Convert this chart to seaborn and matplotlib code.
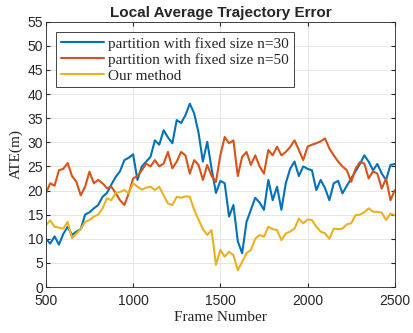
import numpy as np
import pandas as pd
import seaborn as sns
import matplotlib.pyplot as plt

# frame numbers, sampled every 25 frames
frames = list(range(500, 2501, 25))

# partition with fixed size n=30
ate_n30 = [10.0, 9.0, 10.5, 8.8, 11.0, 12.5, 10.8, 11.5, 12.0, 15.0,
           15.5, 16.3, 17.0, 18.7, 19.5, 21.2, 22.8, 24.0, 26.3, 26.8,
           27.5, 22.2, 25.0, 26.0, 27.0, 30.4, 29.5, 32.5, 31.0, 29.8,
           34.6, 34.0, 35.6, 38.0, 36.0, 32.0, 26.0, 30.1, 24.5, 19.5,
           22.0, 21.5, 14.6, 17.0, 9.5, 7.0, 13.5, 16.0, 18.5, 17.5,
           16.0, 22.2, 18.0, 20.8, 16.0, 21.5, 24.5, 26.0, 23.0, 25.0,
           24.5, 24.2, 20.1, 22.2, 20.5, 18.0, 21.5, 22.0, 19.4, 21.0,
           22.5, 24.0, 25.5, 27.3, 26.0, 24.2, 25.5, 23.5, 22.2, 25.3,
           25.5]

# partition with fixed size n=50
ate_n50 = [19.4, 21.5, 21.0, 24.2, 24.5, 25.7, 23.0, 21.8, 19.0, 20.8,
           23.9, 21.5, 22.2, 21.5, 20.5, 20.8, 19.5, 18.0, 17.0, 19.4,
           22.5, 23.0, 24.2, 25.6, 25.0, 26.3, 25.0, 25.6, 28.0, 24.6,
           26.0, 28.0, 27.3, 23.5, 26.3, 25.3, 22.2, 25.3, 23.0, 21.8,
           27.3, 31.1, 29.8, 30.4, 23.0, 27.0, 28.0, 25.3, 27.3, 25.0,
           23.5, 28.4, 27.3, 29.1, 27.3, 28.0, 29.0, 30.4, 28.4, 26.3,
           29.1, 29.5, 29.8, 30.2, 30.8, 28.7, 27.3, 26.0, 25.0, 24.2,
           21.8, 24.5, 25.9, 25.6, 22.5, 24.0, 23.5, 20.4, 22.5, 18.0,
           20.1]

# our method
ate_ours = [12.8, 13.8, 12.5, 12.3, 12.1, 13.5, 10.1, 11.1, 12.0, 13.5,
            13.9, 14.6, 15.0, 16.3, 18.4, 18.0, 19.5, 19.7, 20.1, 19.4,
            21.5, 20.8, 20.2, 20.6, 20.8, 20.1, 20.8, 19.0, 17.3, 17.0,
            18.7, 18.5, 18.8, 18.7, 16.0, 14.0, 12.0, 10.8, 11.8, 4.6,
            7.7, 6.3, 7.3, 6.6, 3.5, 5.2, 7.0, 7.7, 10.0, 10.8,
            10.4, 12.5, 12.0, 11.8, 9.7, 11.1, 11.5, 12.1, 14.2, 13.2,
            14.0, 13.9, 12.5, 11.5, 11.1, 10.0, 12.1, 12.0, 12.1, 13.0,
            13.2, 14.9, 15.0, 15.5, 16.3, 15.6, 15.6, 15.4, 13.9, 15.2,
            14.9]

labels = ['partition with fixed size n=30', 'partition with fixed size n=50', 'Our method']
colors = ['#0072BD', '#D95319', '#EDB120']

df = pd.DataFrame({'frame': frames, labels[0]: ate_n30, labels[1]: ate_n50, labels[2]: ate_ours})
df_long = df.melt(id_vars='frame', var_name='method', value_name='ate')

sns.set_style('whitegrid')
plt.rcParams['font.family'] = ['Liberation Sans', 'DejaVu Sans']

fig = plt.figure(figsize=(4.13, 3.33), dpi=100)
ax = fig.add_axes([0.111, 0.138, 0.845, 0.797])

sns.lineplot(data=df_long, x='frame', y='ate', hue='method', palette=colors,
             linewidth=1.5, ax=ax)

ax.set_xlim(500, 2500)
ax.set_ylim(0, 55)
ax.set_xticks([500, 1000, 1500, 2000, 2500])
ax.set_yticks(np.arange(0, 56, 5))
ax.tick_params(labelsize=10, direction='in', length=3, top=True, right=True,
               bottom=True, left=True, colors='#262626')
ax.tick_params(axis='x', pad=5)
ax.tick_params(axis='y', pad=2)
ax.grid(color='#e6e6e6', linewidth=0.7)
for s in ax.spines.values():
    s.set_color('#262626')
    s.set_linewidth(0.6)

ax.set_xlabel('Frame Number', family='Liberation Serif', fontsize=11, labelpad=2)
ax.set_ylabel('ATE(m)', family='Liberation Serif', fontsize=11, labelpad=3)
ax.set_title('Local Average Trajectory Error', fontsize=11, fontweight='bold', pad=3)

leg = ax.legend(loc='upper left', bbox_to_anchor=(0.03, 0.96), prop={'family': 'Liberation Serif', 'size': 11},
                frameon=True, fancybox=False, borderpad=0.3, labelspacing=0.15,
                handlelength=2.8, handletextpad=0.3, borderaxespad=0)
leg.get_frame().set_edgecolor('#262626')
leg.get_frame().set_linewidth(0.6)
leg.get_frame().set_alpha(1)

fig.savefig('out.png', dpi=100)
